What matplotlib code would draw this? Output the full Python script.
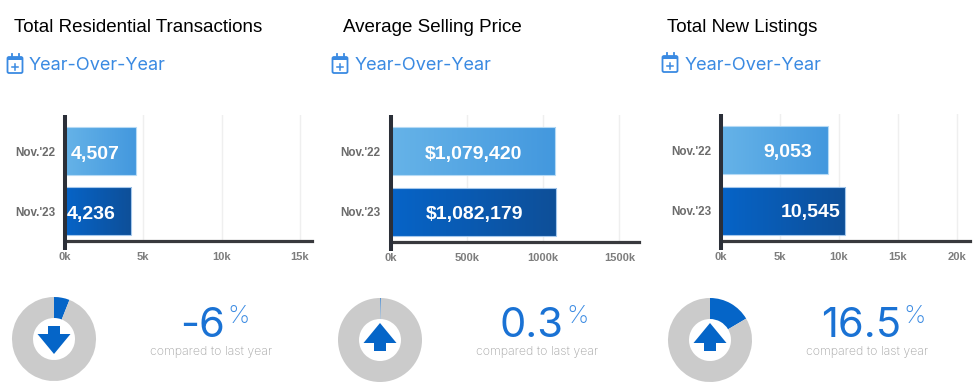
import matplotlib
matplotlib.use("Agg")
import matplotlib.pyplot as plt
import numpy as np
from matplotlib.colors import LinearSegmentedColormap
from matplotlib.patches import Polygon, Rectangle, FancyBboxPatch

W, H = 975, 390
categories = ["Nov.'22", "Nov.'23"]
titles = ["Total Residential Transactions", "Average Selling Price", "Total New Listings"]
subtitle = "Year-Over-Year"
caption = "compared to last year"
values = [[4507, 4236], [1079420, 1082179], [9053, 10545]]
value_labels = [["4,507", "4,236"], ["$1,079,420", "$1,082,179"], ["9,053", "10,545"]]
ticks = [[0, 5000, 10000, 15000], [0, 500000, 1000000, 1500000], [0, 5000, 10000, 15000, 20000]]
tick_labels = [["0k", "5k", "10k", "15k"], ["0k", "500k", "1000k", "1500k"], ["0k", "5k", "10k", "15k", "20k"]]
changes = [-6, 0.3, 16.5]
change_labels = ["-6", "0.3", "16.5"]

# layout, in pixels
axis_left = [65, 390.5, 720.7]
axis_right = [312, 639, 969.5]
axis_top = [115, 115, 114]
axis_bottom = [241, 242, 241]
xlims = [15770, 1628000, 21080]
title_x = [14, 343, 667]
icon_x = [7, 332, 662]
sub_x = [29, 355, 685]
sub_y = [64, 64, 63]
value_cx = [[95, 91.5], [473, 474.5], [788, 811]]
donut_c = [(54, 339), (380, 340), (710, 340)]
num_right = [225, 564, 901]
pct_x = [227, 566, 903]
cap_cx = [210.7, 537, 867]

BLUE = "#0565c8"
TXT_BLUE = "#3a8ae2"
NUM_BLUE = "#1a72d4"
DARK = "#2b2f38"
cmaps = [LinearSegmentedColormap.from_list("l", ["#66b3e8", "#4398de"]),
         LinearSegmentedColormap.from_list("d", ["#0664c8", "#0e4f98"])]
edges = ["#b5daf5", "#a5c8ec"]

fig = plt.figure(figsize=(W / 100, H / 100), dpi=100, facecolor="white")
ov = fig.add_axes([0, 0, 1, 1], zorder=5)
ov.set_xlim(0, W)
ov.set_ylim(H, 0)
ov.axis("off")

SANS = "Liberation Sans"
THIN = "Inter"
grad = np.linspace(0, 1, 256).reshape(1, -1)


def calendar(x, y):
    ov.add_patch(FancyBboxPatch((x + 0.5, y - 7), 15, 16, boxstyle="round,pad=0,rounding_size=1.5",
                                fc="none", ec=TXT_BLUE, lw=1.3))
    ov.add_patch(Rectangle((x + 0.5, y - 7), 15, 3.2, fc=TXT_BLUE, ec="none"))
    for dx in (4.5, 11.5):
        ov.plot([x + dx, x + dx], [y - 10, y - 6], color=TXT_BLUE, lw=1.3)
    ov.plot([x + 5, x + 11], [y + 3, y + 3], color=TXT_BLUE, lw=1.1)
    ov.plot([x + 8, x + 8], [y, y + 6], color=TXT_BLUE, lw=1.1)


def arrow(cx, cy, up):
    pts = [(-6, -13), (6, -13), (6, -5), (16.5, -5), (0, 15), (-16.5, -5), (-6, -5)]
    if up:
        shape = [(cx + px, cy - 2 - py) for px, py in pts]
    else:
        shape = [(cx + px, cy + py) for px, py in pts]
    ov.add_patch(Polygon(shape, closed=True, fc=BLUE, ec="none"))


for i in range(3):
    ax = fig.add_axes([axis_left[i] / W, 1 - axis_bottom[i] / H,
                       (axis_right[i] - axis_left[i]) / W,
                       (axis_bottom[i] - axis_top[i]) / H])
    ax.set_axisbelow(True)
    ax.grid(axis="x", color="#efefef", lw=1)
    bars = ax.barh(range(2), values[i], height=0.8, facecolor="none", zorder=3, lw=0.8)
    for bar, cm, ec in zip(bars, cmaps, edges):
        bar.set_edgecolor(ec)
        x0, y0, w, h = bar.get_bbox().bounds
        im = ax.imshow(grad, extent=[x0, x0 + w, y0 + h, y0], cmap=cm, aspect="auto", zorder=2)
        im.set_clip_path(bar)
    ax.set_xlim(0, xlims[i])
    ax.set_ylim(1.5, -0.6)
    ax.set_yticks(range(2), categories)
    ax.set_xticks(ticks[i], tick_labels[i])
    ax.tick_params(length=0)
    ax.tick_params(axis="y", pad=7)
    ax.tick_params(axis="x", pad=8)
    for t in ax.get_xticklabels():
        t.set(fontsize=8, fontweight="bold", color="#7d7d7d", family=SANS)
    for t in ax.get_yticklabels():
        t.set(fontsize=8.4, fontweight="bold", color="#6b6b6b", family=SANS)
    for s in ("top", "right", "left"):
        ax.spines[s].set_visible(False)
    ax.spines["bottom"].set(color="#38393d", lw=2.3)
    ov.plot([axis_left[i]] * 2, [axis_top[i], axis_bottom[i] + 9], color=DARK, lw=2.9, solid_capstyle="butt")

    ov.text(title_x[i], 28, titles[i], fontsize=13.5, family=SANS, color="black", va="center", ha="left")
    calendar(icon_x[i], sub_y[i])
    ov.text(sub_x[i], sub_y[i] + 2, subtitle, fontsize=13.05, family=THIN, weight="normal",
            color=TXT_BLUE, va="center", ha="left")

    for j in range(2):
        cy = axis_top[i] + (j + 0.6) * 60
        ov.text(value_cx[i][j], cy + 3, value_labels[i][j], fontsize=14, fontweight="bold", family=SANS,
                color="white", ha="center", va="center")

    cx, cy = donut_c[i]
    R = 42
    dax = fig.add_axes([(cx - R) / W, 1 - (cy + R) / H, 2 * R / W, 2 * R / H])
    frac = abs(changes[i])
    dax.pie([frac, 100 - frac], colors=[BLUE, "#cbcbcb"], startangle=90, counterclock=False,
            radius=1, wedgeprops=dict(width=0.5, linewidth=0))
    dax.set_xlim(-1, 1)
    dax.set_ylim(-1, 1)
    arrow(cx, cy, changes[i] > 0)

    ov.text(num_right[i], 337, change_labels[i], fontsize=30, family=THIN, weight="normal",
            color=NUM_BLUE, ha="right", va="baseline")
    ov.text(pct_x[i], 323, "%", fontsize=18, family=THIN, weight="light",
            color=TXT_BLUE, ha="left", va="baseline")
    ov.text(cap_cx[i], 352, caption, fontsize=8.9, family=THIN, weight="light",
            color="#a5a5a5", ha="center", va="center")

fig.savefig("out.png", dpi=100, facecolor="white")
